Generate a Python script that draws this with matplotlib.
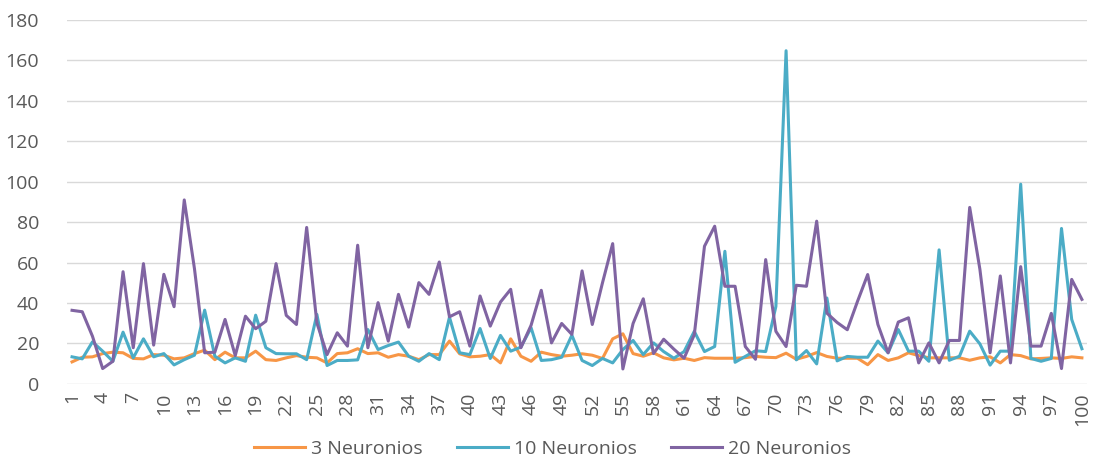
import numpy as np
import matplotlib
matplotlib.use('Agg')
import matplotlib.pyplot as plt

plt.rcParams['font.family'] = ['Open Sans', 'DejaVu Sans']

x = np.arange(1, 101)

n3 = [10.9, 13.2, 13.4, 15.0, 15.7, 15.4, 12.6, 12.4, 14.5, 14.2,
      12.4, 12.9, 15.0, 16.7, 12.0, 15.7, 12.9, 12.9, 16.2, 12.0,
      11.6, 12.9, 14.0, 13.2, 12.9, 10.4, 15.0, 15.4, 17.4, 15.0,
      15.4, 13.2, 14.5, 13.7, 12.0, 14.5, 14.5, 21.2, 14.9, 13.4,
      13.7, 14.5, 10.4, 22.3, 13.7, 11.2, 15.7, 14.5, 13.7, 14.2,
      14.9, 14.2, 12.6, 22.3, 24.8, 15.0, 13.7, 15.4, 12.9, 11.9,
      12.7, 11.6, 13.0, 12.7, 12.7, 12.7, 13.0, 13.6, 13.2, 13.0,
      15.2, 12.2, 13.6, 15.5, 13.6, 12.7, 12.7, 12.7, 9.5, 14.5,
      11.6, 12.9, 15.4, 14.0, 12.9, 12.9, 12.9, 12.9, 11.7, 12.9,
      13.4, 10.4, 14.5, 14.0, 12.4, 12.6, 12.9, 12.6, 13.4, 12.9]

n10 = [13.4, 12.4, 20.8, 16.2, 11.2, 25.6, 12.9, 22.3, 13.4, 15.0,
       9.4, 12.0, 14.2, 36.5, 13.7, 10.4, 12.9, 11.2, 34.0, 17.9,
       15.0, 14.9, 14.9, 12.0, 34.4, 9.1, 11.6, 11.6, 11.9, 26.9,
       17.0, 19.0, 20.7, 13.7, 11.2, 15.0, 12.0, 33.0, 15.4, 14.5,
       27.4, 12.6, 24.0, 16.2, 18.2, 27.8, 11.6, 12.0, 13.2, 24.1,
       11.6, 9.1, 12.6, 10.4, 17.0, 21.5, 14.5, 20.3, 16.0, 12.7,
       16.0, 26.0, 16.0, 18.5, 65.6, 10.7, 13.6, 16.4, 16.0, 38.3,
       164.8, 11.9, 16.5, 9.9, 42.5, 11.4, 13.6, 13.2, 13.2, 21.2,
       15.4, 26.9, 16.2, 16.2, 11.2, 66.3, 11.7, 13.7, 26.1, 19.8,
       9.3, 16.2, 16.2, 98.8, 12.6, 11.2, 12.6, 76.9, 31.9, 17.4]

n20 = [36.4, 35.7, 23.6, 7.6, 11.2, 55.5, 17.9, 59.5, 19.2, 54.2,
       38.2, 91.0, 57.0, 15.4, 15.7, 31.9, 14.0, 33.5, 27.3, 31.0,
       59.5, 33.9, 29.4, 77.4, 30.2, 14.5, 25.3, 18.7, 68.6, 17.9,
       40.2, 21.2, 44.3, 28.1, 50.1, 44.3, 60.3, 33.2, 35.7, 18.7,
       43.5, 28.6, 40.5, 46.8, 17.9, 29.0, 46.3, 20.3, 29.9, 24.5,
       55.9, 29.4, 50.0, 69.4, 7.4, 29.9, 42.1, 15.0, 22.1, 17.2,
       12.7, 24.3, 68.1, 78.0, 48.3, 48.3, 18.5, 12.2, 61.5, 26.0,
       18.5, 48.8, 48.3, 80.5, 35.0, 30.4, 26.8, 40.8, 54.1, 29.4,
       15.4, 30.6, 32.7, 10.4, 20.3, 10.4, 21.5, 21.5, 87.3, 56.7,
       15.4, 53.4, 10.4, 58.0, 18.7, 18.7, 34.9, 7.6, 51.7, 41.8]

labels = ['3 Neuronios', '10 Neuronios', '20 Neuronios']
colors = ['#F79646', '#4BACC6', '#8064A2']

fig = plt.figure(figsize=(10.94, 4.62), dpi=100)
ax = fig.add_axes([0.0612, 0.169, 0.9324, 0.7877])

for y, lab, c in zip([n3, n10, n20], labels, colors):
    ax.plot(x, y, color=c, lw=2.2, label=lab, solid_joinstyle='round')

ax.set_xlim(0.5, 100.5)
ax.set_ylim(0, 180)
ax.set_yticks(range(0, 181, 20))
ax.set_xticks(x[::3])
ax.set_xticklabels([str(v) for v in x[::3]], rotation=90)
ax.grid(axis='y', color='#D9D9D9', lw=1)
ax.set_axisbelow(True)
for s in ax.spines.values():
    s.set_visible(False)
ax.tick_params(length=0, labelsize=14, labelcolor='#595959', pad=6)
ax.tick_params(axis='y', pad=20)

fig.legend(loc='center', bbox_to_anchor=(0.505, 0.028), ncol=3, frameon=False,
           fontsize=14, labelcolor='#595959', handlelength=2.6,
           handletextpad=0.3, columnspacing=1.8)

fig.savefig('out.png', dpi=100)
